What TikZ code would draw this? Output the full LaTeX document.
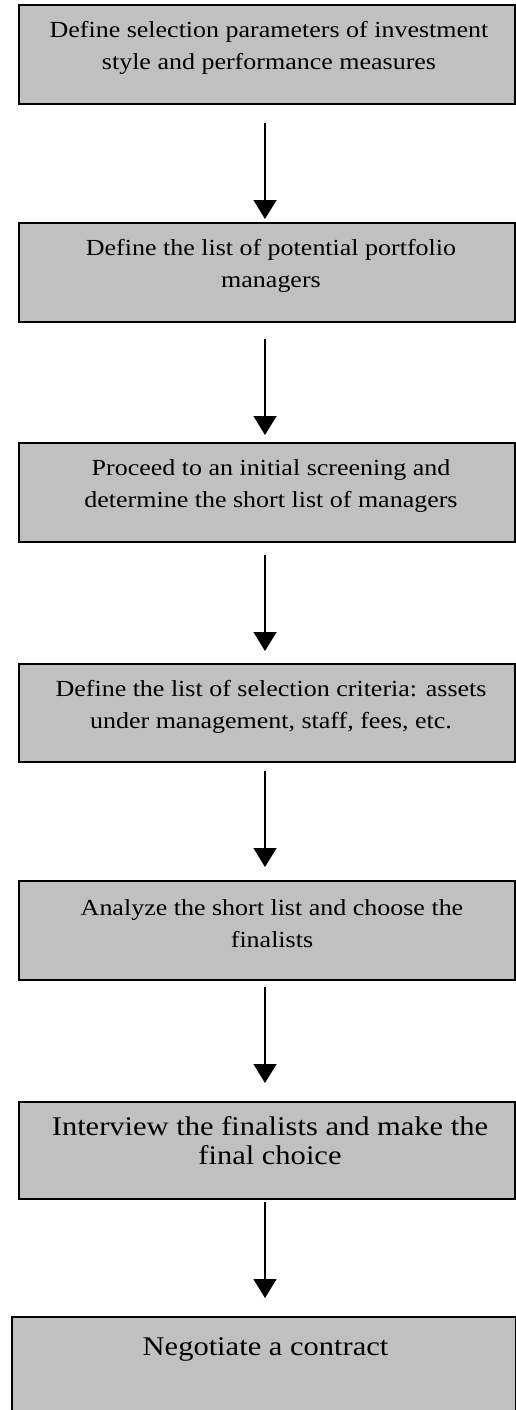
\documentclass[tikz,border=0pt]{standalone}
\usepackage{fontspec}
\setmainfont{Liberation Serif}[FakeStretch=1.13]
\usetikzlibrary{arrows.meta}
\definecolor{boxgray}{HTML}{C0C0C0}
\begin{document}
\begin{tikzpicture}[x=1pt,y=-1pt,
  stepbox/.style={draw=black, line width=1.3pt, fill=boxgray, rectangle, inner sep=0pt, outer sep=0pt},
  smalltext/.style={align=center, inner sep=0pt, anchor=base, font=\fontsize{23}{32}\selectfont},
  bigtext/.style={align=center, inner sep=0pt, anchor=base, font=\fontsize{27}{29}\selectfont},
  arr/.style={line width=1.3pt, -{Triangle[width=23pt,length=19pt]}}]
\useasboundingbox (0,0) rectangle (516,1410);
\clip (0,0) rectangle (516,1410);
\node[stepbox, minimum width=496pt, minimum height=99pt] (b1) at (267,54.5) {};
\node[stepbox, minimum width=496pt, minimum height=99pt] (b2) at (267,272.5) {};
\node[stepbox, minimum width=496pt, minimum height=99pt] (b3) at (267,492.5) {};
\node[stepbox, minimum width=496pt, minimum height=98pt] (b4) at (267,713) {};
\node[stepbox, minimum width=496pt, minimum height=99pt] (b5) at (267,930.5) {};
\node[stepbox, minimum width=496pt, minimum height=97pt] (b6) at (267,1150.5) {};
\node[stepbox, minimum width=504pt, minimum height=100pt] (b7) at (264,1367) {};
% anchor=base of a multi-line node is the baseline of its last line
\node[smalltext] (t1) at (269,70) {Define selection parameters of investment\\style and performance measures};
\node[smalltext] (t2) at (271,287) {Define the list of potential portfolio\\managers};
\node[smalltext] (t3) at (271,507) {Proceed to an initial screening and\\determine the short list of managers};
\node[smalltext] (t4) at (271,728) {Define the list of selection criteria: assets\\under management, staff, fees, etc.};
\node[smalltext] (t5) at (272,947) {Analyze the short list and choose the\\finalists};
\node[bigtext] (t6) at (270,1164) {Interview the finalists and make the\\final choice};
\node[bigtext] (t7) at (265.5,1355) {Negotiate a contract};
\draw[arr] ([xshift=-2pt,yshift=-19pt]b1.south) -- ([xshift=-2pt,yshift=4pt]b2.north);
\draw[arr] ([xshift=-2pt,yshift=-17pt]b2.south) -- ([xshift=-2pt,yshift=8pt]b3.north);
\draw[arr] ([xshift=-2pt,yshift=-13pt]b3.south) -- ([xshift=-2pt,yshift=13pt]b4.north);
\draw[arr] ([xshift=-2pt,yshift=-9pt]b4.south) -- ([xshift=-2pt,yshift=14pt]b5.north);
\draw[arr] ([xshift=-2pt,yshift=-7pt]b5.south) -- ([xshift=-2pt,yshift=19pt]b6.north);
\draw[arr] ([xshift=-2pt,yshift=-3pt]b6.south) -- ([xshift=1pt,yshift=19pt]b7.north);
\end{tikzpicture}
\end{document}
